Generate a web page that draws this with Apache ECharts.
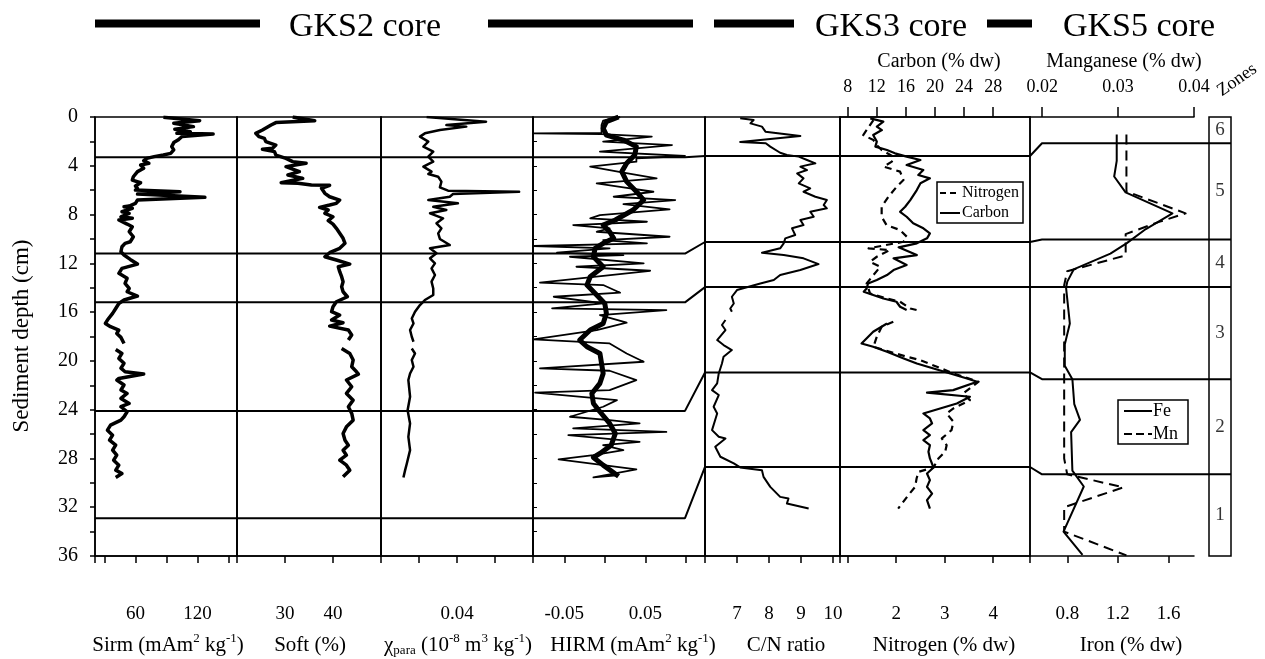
<!DOCTYPE html>
<html>
<head>
<meta charset="utf-8">
<script src="https://cdn.jsdelivr.net/npm/echarts@6/dist/echarts.min.js"></script>
<style>html,body{margin:0;padding:0;background:#fff;font-family:'Liberation Serif',serif}#c{width:1265px;height:659px}</style>
</head>
<body>
<div id="c"></div>
<script>
// ================= DATA =================
// GKS2 core — Sirm (mAm2 kg-1)
const sirmDepth = [0.03,0.3,0.52,0.79,1.0,1.2,1.34,1.39,1.6,1.89,2.1,2.43,2.7,2.98,3.12,3.25,3.39,3.58,3.8,3.94,4.2,4.48,4.9,5.17,5.39,5.66,5.85,5.99,6.13,6.32,6.59,6.81,7.08,7.3,7.36,7.49,7.77,7.9,8.18,8.31,8.45,8.78,9.0,9.41,9.82,10.23,10.36,10.64,11.05,11.32,11.68,12.06,12.41,12.82,13.23,13.65,14.06,14.33,14.68,15.01,15.29,15.7,16.1,16.65,16.93,17.2,17.47,17.75,18.07,18.57,18.8,19.06,19.39,19.8,20.2,20.6,20.89,21.08,21.44,21.57,21.98,22.39,22.67,23.08,23.49,23.76,24.17,24.58,24.86,25.27,25.68,26.09,26.5,26.91,27.32,27.73,28.14,28.55,28.96,29.24,29.56];
const sirmValue = [87,122,97,116,98,113,100,135,105,101,97,95,97,94,87,78,71,68,73,65,68,62,58,57,65,60,62,60,103,62,127,62,60,54,49,57,47,54,46,57,44,52,57,54,58,55,50,47,46,49,55,62,47,44,52,50,54,52,62,49,44,41,38,33,31,36,44,42,46,49,null,41,47,44,49,46,50,68,44,42,49,46,52,46,54,46,52,49,46,36,33,38,35,41,38,42,39,44,41,47,41];

// GKS2 core — Soft (%)
const softDepth = [0,0.3,0.46,0.66,1.07,1.34,1.61,1.75,2.02,2.3,2.57,2.65,2.84,3.12,3.39,3.66,3.8,4.07,4.48,4.76,5.03,5.39,5.44,5.58,5.6,5.85,6.26,6.54,6.81,7.08,7.22,7.41,7.63,7.9,8.18,8.5,8.78,9.13,9.54,9.95,10.36,10.77,11.13,11.46,11.73,12.06,12.28,12.69,13.1,13.51,13.92,14.33,14.74,15.15,15.56,15.97,16.24,16.65,16.87,17.15,17.47,17.88,18.29,18.6,18.98,19.39,19.93,20.48,20.89,21.08,21.57,22.12,22.67,23.22,23.76,24.31,24.86,25.41,25.95,26.5,26.91,27.32,27.73,28.14,28.55,28.96,29.51];
const softValue = [31.6,36.2,28.1,27.1,25.3,23.9,24.6,25.7,26,28.1,27.4,25.3,27.8,28.1,30.2,31.6,34.4,30.2,33,30.6,33.7,29.2,32.7,35.5,39.3,37.6,38.3,39.3,41.4,40.7,39.3,37.2,39,38.3,40,39,40,40.7,41.4,42.1,42.5,41.4,39.3,38.3,40.7,43.5,41.1,41.4,41.8,42.1,41.8,42.1,43,40.7,40,39.7,41.4,39.7,42.1,39.3,43.2,43.9,43.2,null,41.8,43.5,44.2,43.9,44.9,45.3,42.8,43.9,42.8,44.2,43.2,43.9,44.2,42.8,42.1,42.5,43.2,42.1,42.8,41.4,42.8,43.5,42.1];

// GKS2 core — chi para (10-8 m3 kg-1)
const chiDepth = [0,0.38,0.66,0.79,1.07,1.34,1.61,2.02,2.43,2.84,3.25,3.66,4.07,4.48,4.68,4.9,5.3,5.77,6.04,6.13,6.32,6.54,6.81,7.08,7.36,7.63,7.9,8.31,8.72,9.13,9.54,10.0,10.5,10.77,11.18,11.59,12.0,12.41,12.96,13.5,14.06,14.6,15.01,15.42,15.97,16.52,16.93,17.47,18.02,18.43,18.7,18.98,19.39,19.93,20.48,21.03,21.57,22.94,24.04,25.13,26.23,27.32,28.41,28.96,29.56];
const chiValue = [0.024,0.0553,0.0344,0.0449,0.031,0.0231,0.0205,0.0249,0.0223,0.0275,0.0249,0.0275,0.0223,0.0266,0.0249,0.0301,0.0318,0.031,0.0353,0.0727,0.0379,0.0362,0.0249,0.0405,0.0275,0.0344,0.0258,0.0327,0.0292,0.0318,0.0301,0.031,0.0362,0.0258,0.0292,0.0258,0.0284,0.0266,0.0284,0.0266,0.0275,0.0275,0.0231,0.0205,0.0179,0.0162,0.0171,0.0153,0.0162,0.0171,null,0.0162,0.0179,0.0162,0.0171,0.0153,0.0144,0.0153,0.014,0.0153,0.0144,0.0153,0.0136,0.0127,0.0118];

// GKS2 core — HIRM (mAm2 kg-1), raw and smoothed
const hirmDepth = [0,0.3,0.66,1.3,1.34,1.4,1.61,2.02,2.3,2.84,3.2,3.39,3.66,4.07,4.35,4.57,5.03,5.44,5.77,6.13,6.54,6.81,7.14,7.57,8.04,8.31,8.59,8.86,9.13,9.41,9.82,10.09,10.36,10.58,10.77,11.13,11.32,11.46,12.0,12.28,12.61,13.59,13.78,14.41,14.74,15.29,15.7,15.83,16.24,16.87,17.47,18.24,18.57,19.39,20.07,20.62,20.81,21.57,22.39,22.61,23.22,23.76,24.58,24.86,25.13,25.54,25.82,26.09,26.64,26.91,27.32,27.73,28.08,28.9,29.56,29.38];
const hirmValue = [0.019,-0.002,-0.004,-0.004,-0.088,-0.004,0.058,-0.002,0.083,-0.006,0.099,0.039,0.039,-0.018,0.006,0.023,0.064,-0.01,0.023,0.06,0.011,0.087,0.023,0.08,-0.006,-0.018,0.052,-0.039,0.006,-0.01,0.08,-0.002,0.052,-0.088,0.006,-0.059,0.023,-0.043,0.048,-0.035,0.056,-0.08,-0.002,0.019,-0.063,-0.002,-0.065,0.076,-0.006,0.027,-0.01,-0.088,0.006,0.027,0.048,-0.08,0.006,0.039,0.006,-0.086,0.015,-0.002,-0.043,0.006,0.043,-0.039,0.076,-0.045,0.043,-0.002,0.023,-0.014,-0.057,0.039,-0.014,0.015];
const hirmSmoothDepth = [0,0.38,0.93,1.48,1.89,2.43,3.12,3.8,4.48,5.3,6.26,6.81,7.63,8.45,8.86,9.41,9.95,10.36,10.77,11.46,12.28,13.1,13.78,14.6,15.29,16.1,16.93,17.47,18.29,18.84,19.39,20.2,21.03,21.84,22.67,23.49,24.17,25.13,25.95,26.91,27.59,27.92,28.55,29.46];
const hirmSmoothValue = [0.017,0.002,-0.002,0.002,0.023,0.039,0.037,0.027,0.021,0.027,0.041,0.048,0.035,0.013,-0.002,0.006,0.011,-0.002,-0.012,-0.014,-0.002,-0.018,-0.022,-0.01,0,0.002,-0.002,-0.018,-0.031,-0.022,-0.006,-0.004,-0.002,-0.006,-0.016,-0.014,-0.006,0.006,0.013,0.008,-0.006,-0.014,-0.002,0.017];

// GKS3 core — C/N ratio
const cnDepth = [0.11,0.25,0.52,0.79,1.2,1.56,2.05,2.15,2.43,2.93,3.12,3.25,3.53,3.8,4.07,4.35,4.62,5.03,5.44,5.85,6.13,6.54,6.81,7.22,7.49,7.77,8.18,8.45,8.86,9.13,9.68,9.95,10.36,10.77,11.13,11.32,11.59,12.06,12.55,12.96,13.37,13.65,14.19,14.74,15.29,15.7,15.97,16.3,16.65,17.06,17.47,18.29,18.7,19.11,19.66,20.21,21.03,21.85,22.4,22.8,23.76,24.31,25.68,26.22,26.36,27.04,27.86,28.41,28.74,28.96,29.51,30.33,31.15,31.29,31.7,32.11];
const cnValue = [7.1,7.52,7.42,7.78,7.89,8.98,7.1,7.9,8.04,8.35,8.56,8.93,9.19,9.45,8.98,9.19,8.88,9.08,8.93,9.29,9.08,9.45,9.81,9.71,9.81,9.29,9.4,8.98,9.08,8.72,8.82,8.51,8.46,8.35,7.78,8.46,9.08,9.55,8.98,8.35,8.15,7.73,7.0,6.84,6.9,6.79,6.84,null,6.64,6.53,6.64,6.38,6.58,6.84,6.58,6.53,6.43,6.38,6.22,6.43,6.27,6.38,6.22,6.43,6.64,6.32,6.48,6.9,7.1,7.78,7.83,8.04,8.35,8.61,8.56,9.24];

// GKS3 core — Carbon (% dw) and Nitrogen (% dw)
const carbonDepth = [0.11,0.38,0.79,1.07,1.48,2.02,2.43,2.71,2.98,3.25,3.53,3.94,4.35,4.76,5.03,5.44,5.99,6.81,7.36,7.77,8.18,8.72,9.13,9.54,9.95,10.36,10.69,11.32,11.59,12.14,12.55,12.96,13.37,13.65,14.06,14.33,14.6,14.88,15.15,15.56,15.83,16.4,16.93,17.61,18.57,18.84,19.25,19.8,20.21,20.62,21.03,21.44,21.71,22.4,22.61,22.94,23.49,23.9,24.31,24.72,25.13,25.68,26.09,26.5,26.91,27.45,28.0,28.74,29.24,29.78,30.33,30.88,31.42,32.11];
const carbonValue = [11.1,12.9,12.0,12.7,11.5,12.0,11.8,13.4,14.5,16.1,18.0,16.1,18.4,17.7,19.3,18.0,17.5,16.6,15.9,15.2,16.1,17.0,18.4,19.3,18.9,17.5,15.0,17.5,14.3,16.1,14.3,13.4,12.0,10.8,10.6,10.2,11.5,12.9,14.7,15.2,16.1,null,13.4,11.5,9.9,11.5,13.4,15.7,17.5,19.8,22.1,24.4,25.8,22.5,18.9,24.8,23.0,20.7,18.4,19.3,19.6,18.4,19.3,18.4,19.3,19.1,19.3,19.8,18.9,19.3,18.9,19.6,18.9,19.3];
const nitrogenDepth = [0.25,1.48,1.89,2.3,2.71,3.25,3.66,4.07,4.48,5.17,5.72,6.54,7.36,8.18,8.86,9.27,9.82,10.23,10.77,10.91,11.46,11.87,12.28,13.65,14.47,14.88,15.15,15.7,15.83,16.3,16.79,17.2,18.02,18.84,19.25,19.66,19.93,20.48,21.03,21.71,22.67,23.22,23.9,24.31,24.99,25.68,26.36,26.91,27.45,28.0,28.74,29.1,29.65,30.33,31.01,32.11];
const nitrogenValue = [1.53,1.32,1.53,1.6,1.7,1.94,1.91,1.74,2.08,2.15,2.01,1.84,1.7,1.7,1.8,2.08,2.22,2.15,1.43,1.87,1.6,1.46,1.67,1.39,1.46,1.8,2.08,2.29,2.42,null,1.94,1.7,1.6,1.53,1.87,2.22,2.49,2.84,3.18,3.7,3.38,3.52,3.18,3.04,3.18,3.14,2.94,3.04,3.01,2.87,2.77,2.46,2.42,2.39,2.25,2.04];

// GKS5 core — Iron (% dw) and Manganese (% dw)
const ironDepth = [1.44,3.6,4.88,6.18,7.9,9.19,10.34,11.2,12.5,13.5,14.0,16.94,18.66,20.4,21.5,23.55,24.84,25.84,29.0,30.3,34.0,35.9];
const ironValue = [1.19,1.19,1.17,1.26,1.63,1.42,1.27,1.14,0.85,0.8,0.79,0.82,0.78,0.78,0.84,0.855,0.9,0.83,0.84,0.93,0.77,0.92];
const mnDepth = [1.44,6.1,7.9,8.6,9.6,11.35,12.65,13.8,28.0,29.3,30.37,32.0,34.0,35.95];
const mnValue = [0.0311,0.0311,0.0389,0.0354,0.031,0.031,0.0233,0.0229,0.0229,0.0233,0.0307,0.0229,0.0229,0.0311];

// Zone boundaries (depth, cm) in each core, and zone names (top to bottom)
const gks2Zones = [3.3, 11.2, 15.2, 24.1, 32.9];
const gks3Zones = [3.2, 10.25, 13.95, 20.95, 28.7];
const gks5Zones = [2.15, 10.05, 13.95, 21.5, 29.3];
const zoneNames = ['6', '5', '4', '3', '2', '1'];

// Tick values / tick labels
const depthTicks = [0,2,4,6,8,10,12,14,16,18,20,22,24,26,28,30,32,34,36];
const depthLabels = [0,4,8,12,16,20,24,28,32,36];
const sirmTicks = [30,60,90,120,150];   const sirmLabels = [60,120];
const softTicks = [30,40];              const softLabels = [30,40];
const chiTicks = [0.02,0.04,0.06];      const chiLabels = [0.04];
const hirmTicks = [-0.05,0,0.05,0.1];   const hirmLabels = [-0.05,0.05];
const cnTicks = [7,8,9,10];             const cnLabels = [7,8,9,10];
const nTicks = [1,2,3,4];               const nLabels = [2,3,4];
const cTicks = [8,12,16,20,24,28];      const cLabels = [8,12,16,20,24,28];
const feTicks = [0.8,1.2,1.6];          const feLabels = [0.8,1.2,1.6];
const mnTicks = [0.02,0.03,0.04];       const mnLabels = [0.02,0.03,0.04];

// ================= LAYOUT =================
const FONT = 'Liberation Serif';
const TOP = 117, H = 439;
const EDGES = [95, 237, 381, 533, 705, 840, 1030, 1194];
const ZBOX = [1209, 1231];
const RANGES = {
  sirm: [21, 158], soft: [20, 50], chi: [0, 0.08], hirm: [-0.0886, 0.1237],
  cn: [6, 10.22], n: [0.841, 4.759], c: [6.94, 33.06], fe: [0.5055, 1.8], mn: [0.0184, 0.04]
};
const BLACK = '#000';

const grids = [];
for (let i = 0; i < 7; i++) {
  grids.push({ left: EDGES[i], top: TOP, width: EDGES[i + 1] - EDGES[i], height: H,
    show: i < 6, borderColor: BLACK, borderWidth: 1.5, containLabel: false, outerBoundsMode: 'none' });
}
// overlay grid for zone boundary lines and zone labels
const OV_W = ZBOX[1] - EDGES[0];
grids.push({ left: EDGES[0], top: TOP, width: OV_W, height: H, show: false, containLabel: false, outerBoundsMode: 'none' });

const lblStyle = { color: BLACK, fontFamily: FONT };
function xAx(grid, range, ticks, labels, pos) {
  const top = pos === 'top';
  return {
    type: 'value', gridIndex: grid, position: pos || 'bottom', min: range[0], max: range[1],
    splitLine: { show: false },
    axisLine: { show: true, onZero: false, lineStyle: { color: BLACK, width: 1.5 } },
    axisTick: { show: true, inside: false, length: top ? 10 : 7,
      customValues: top ? ticks : [range[0]].concat(ticks), lineStyle: { color: BLACK, width: 1.5 } },
    axisLabel: Object.assign({ customValues: labels, margin: top ? 21 : 49, fontSize: top ? 18 : 19 }, lblStyle)
  };
}
const xAxes = [
  xAx(0, RANGES.sirm, sirmTicks, sirmLabels),
  xAx(1, RANGES.soft, softTicks, softLabels),
  xAx(2, RANGES.chi, chiTicks, chiLabels),
  xAx(3, RANGES.hirm, hirmTicks, hirmLabels),
  xAx(4, RANGES.cn, cnTicks, cnLabels),
  xAx(5, RANGES.n, nTicks, nLabels),
  xAx(5, RANGES.c, cTicks, cLabels, 'top'),
  xAx(6, RANGES.fe, feTicks, feLabels),
  xAx(6, RANGES.mn, mnTicks, mnLabels, 'top'),
  { type: 'value', gridIndex: 7, min: 0, max: OV_W, show: false }
];

const yAxes = [];
for (let i = 0; i < 8; i++) {
  const y = { type: 'value', gridIndex: i, min: 0, max: 36, inverse: true,
    splitLine: { show: false },
    axisLine: { show: i < 7, onZero: false, lineStyle: { color: BLACK, width: 1.5 } },
    axisTick: { show: false }, axisLabel: { show: false } };
  if (i === 0) {
    y.axisTick = { show: true, length: 5, customValues: depthTicks, lineStyle: { color: BLACK, width: 1.5 } };
    y.axisLabel = Object.assign({ show: true, customValues: depthLabels, margin: 17, fontSize: 20 }, lblStyle);
  }
  if (i === 3) {
    y.axisTick = { show: true, inside: true, length: 4, customValues: depthTicks.slice(1, -1), lineStyle: { color: BLACK, width: 1 } };
  }
  if (i === 7) y.show = false;
  yAxes.push(y);
}

function prof(depths, vals) {
  return depths.map((d, i) => vals[i] == null ? ['-', '-'] : [vals[i], d]);
}
function lineSeries(name, xi, yi, depths, vals, width, dash) {
  return { name, type: 'line', xAxisIndex: xi, yAxisIndex: yi, data: prof(depths, vals),
    symbol: 'none', showSymbol: false, connectNulls: false, silent: true, animation: false,
    lineStyle: { color: BLACK, width, type: dash || 'solid', join: 'round', cap: 'butt' } };
}

const series = [
  lineSeries('Sirm', 0, 0, sirmDepth, sirmValue, 3.5),
  lineSeries('Soft', 1, 1, softDepth, softValue, 3.5),
  lineSeries('Chi para', 2, 2, chiDepth, chiValue, 2.5),
  lineSeries('HIRM', 3, 3, hirmDepth, hirmValue, 1.8),
  lineSeries('HIRM smoothed', 3, 3, hirmSmoothDepth, hirmSmoothValue, 5),
  lineSeries('C/N ratio', 4, 4, cnDepth, cnValue, 2),
  lineSeries('Nitrogen', 5, 5, nitrogenDepth, nitrogenValue, 2.2, [7, 5]),
  lineSeries('Carbon', 6, 5, carbonDepth, carbonValue, 2.2),
  lineSeries('Fe', 7, 6, ironDepth, ironValue, 2),
  lineSeries('Mn', 8, 6, mnDepth, mnValue, 2, [10, 6])
];

// zone boundary lines, crossing the three cores with slanted joins
const xs = [0, EDGES[4] - 20 - EDGES[0], EDGES[4] - EDGES[0], EDGES[6] - EDGES[0], EDGES[6] + 12 - EDGES[0], OV_W];
gks2Zones.forEach((z2, i) => {
  const z3 = gks3Zones[i], z5 = gks5Zones[i];
  series.push({ type: 'line', xAxisIndex: 9, yAxisIndex: 7, symbol: 'none', silent: true, animation: false,
    data: [[xs[0], z2], [xs[1], z2], [xs[2], z3], [xs[3], z3], [xs[4], z5], [xs[5], z5]],
    lineStyle: { color: BLACK, width: 2 } });
});
// zone labels
const zb = [0].concat(gks5Zones, [36]);
series.push({ type: 'scatter', xAxisIndex: 9, yAxisIndex: 7, symbolSize: 0, silent: true, animation: false,
  data: zoneNames.map((n, i) => ({ name: n, value: [(ZBOX[0] + ZBOX[1]) / 2 - EDGES[0], (zb[i] + zb[i + 1]) / 2] })),
  label: Object.assign({ show: true, position: 'inside', formatter: '{b}', fontSize: 19 }, lblStyle) });

// ================= GRAPHIC (titles, legends, zone box) =================
function txt(x, y, text, size, opts) {
  opts = opts || {};
  return { type: 'text', x, y, rotation: opts.rot || 0, silent: true,
    style: { text, fill: BLACK, fontSize: size, fontFamily: FONT,
      textAlign: opts.align || 'center', align: opts.align || 'center',
      textVerticalAlign: 'middle', verticalAlign: 'middle',
      lineHeight: size + 4, rich: opts.rich } };
}
const supR = { sup: { fontSize: 13, fontFamily: FONT, fill: BLACK, verticalAlign: 'top', lineHeight: 13 },
               sub: { fontSize: 13, fontFamily: FONT, fill: BLACK, verticalAlign: 'bottom', lineHeight: 13 } };
function bar(x1, x2) {
  return { type: 'rect', silent: true, shape: { x: x1, y: 19.5, width: x2 - x1, height: 8 }, style: { fill: BLACK } };
}
function ln(x1, y1, x2, y2, dash, w) {
  return { type: 'line', silent: true, shape: { x1, y1, x2, y2 }, style: { stroke: BLACK, lineWidth: w || 2, lineDash: dash || null } };
}
const graphic = [
  bar(95, 260), bar(488, 693), bar(714, 794), bar(987, 1032),
  txt(365, 27, 'GKS2 core', 34), txt(891, 27, 'GKS3 core', 34), txt(1139, 27, 'GKS5 core', 34),
  txt(939, 62, 'Carbon (% dw)', 20), txt(1124, 62, 'Manganese (% dw)', 20),
  txt(1237, 80, 'Zones', 18, { rot: 35 * Math.PI / 180 }),
  txt(22, 336, 'Sediment depth (cm)', 23, { rot: Math.PI / 2 }),
  txt(168, 645, 'Sirm (mAm{sup|2} kg{sup|-1})', 21, { rich: supR }),
  txt(310, 645, 'Soft (%)', 21),
  txt(458, 645, 'χ{sub|para} (10{sup|-8} m{sup|3} kg{sup|-1})', 21, { rich: supR }),
  txt(633, 645, 'HIRM (mAm{sup|2} kg{sup|-1})', 21, { rich: supR }),
  txt(786, 645, 'C/N ratio', 21),
  txt(944, 645, 'Nitrogen (% dw)', 21),
  txt(1131, 645, 'Iron (% dw)', 21),
  { type: 'rect', silent: true, shape: { x: ZBOX[0], y: TOP, width: ZBOX[1] - ZBOX[0], height: H },
    style: { fill: 'none', stroke: BLACK, lineWidth: 1.5 } },
  // Nitrogen / Carbon legend
  { type: 'rect', silent: true, shape: { x: 937, y: 182, width: 86, height: 41 }, style: { fill: '#fff', stroke: BLACK, lineWidth: 1.5 } },
  ln(940, 193, 960, 193, [6, 4]), ln(940, 213, 960, 213),
  txt(962, 193, 'Nitrogen', 16, { align: 'left' }), txt(962, 213, 'Carbon', 16, { align: 'left' }),
  // Fe / Mn legend
  { type: 'rect', silent: true, shape: { x: 1118, y: 400, width: 70, height: 44 }, style: { fill: '#fff', stroke: BLACK, lineWidth: 1.5 } },
  ln(1124, 411, 1152, 411), ln(1124, 434, 1152, 434, [8, 4]),
  txt(1153, 411, 'Fe', 18, { align: 'left' }), txt(1153, 434, 'Mn', 18, { align: 'left' })
];

const chart = echarts.init(document.getElementById('c'), null, { renderer: 'canvas' });
chart.setOption({
  backgroundColor: '#fff',
  animation: false,
  textStyle: { fontFamily: FONT, color: BLACK },
  grid: grids,
  xAxis: xAxes,
  yAxis: yAxes,
  series,
  graphic
});
</script>
</body>
</html>
